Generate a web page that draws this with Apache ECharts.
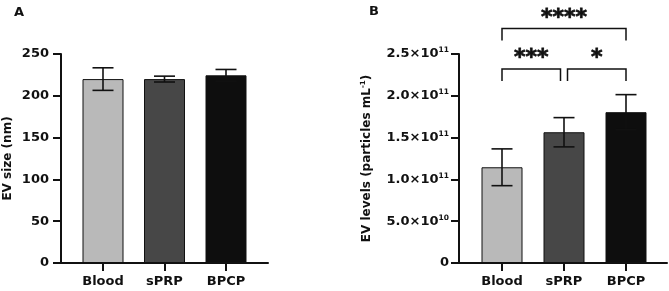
<!DOCTYPE html>
<html>
<head>
<meta charset="utf-8">
<script src="https://cdn.jsdelivr.net/npm/echarts@6/dist/echarts.min.js"></script>
<style>
html,body{margin:0;padding:0;background:#fff;}
#chart{width:669px;height:291px;}
</style>
</head>
<body>
<div id="chart"></div>
<script>
// ---- data ----
const categories = ['Blood', 'sPRP', 'BPCP'];
const sizeMean = [220, 220, 224.5];
const sizeSD = [13.5, 3.5, 7];
const sizeTicks = [0, 50, 100, 150, 200, 250];
const levelMean = [1.145e11, 1.564e11, 1.804e11];
const levelSD = [0.22e11, 0.175e11, 0.21e11];
const levelTicks = [0, 5e10, 1e11, 1.5e11, 2e11, 2.5e11];
const sigPairs = [[0, 2], [0, 1], [1, 2]];
const sigLevels = [2.806e11, 2.32e11, 2.32e11];
const sigLabels = ['****', '***', '*'];
const barColors = ['#b9b9b9', '#474747', '#0e0e0e'];

// ---- styling ----
const FONT = 'DejaVu Sans';
const INK = '#111';

function sci(v) {
  if (v === 0) return '{b|0}';
  const e = Math.floor(Math.log10(v));
  const m = (v / Math.pow(10, e)).toFixed(1);
  return '{b|' + m + '×10}{s|' + e + '}';
}

function errRender(params, api) {
  const x = api.value(0), m = api.value(1), e = api.value(2);
  const top = api.coord([x, m + e]);
  const bot = api.coord([x, m - e]);
  const hw = 10.5;
  const st = { stroke: INK, lineWidth: 1.6 };
  return {
    type: 'group',
    children: [
      { type: 'line', shape: { x1: top[0], y1: top[1], x2: bot[0], y2: bot[1] }, style: st },
      { type: 'line', shape: { x1: top[0] - hw, y1: top[1], x2: top[0] + hw, y2: top[1] }, style: st },
      { type: 'line', shape: { x1: bot[0] - hw, y1: bot[1], x2: bot[0] + hw, y2: bot[1] }, style: st }
    ]
  };
}

function bracketRender(params, api) {
  const i = params.dataIndex;
  const a = api.value(0), b = api.value(1), lvl = api.value(2);
  const p1 = api.coord([a, lvl]);
  const p2 = api.coord([b, lvl]);
  // inset where another bracket at the same level shares an endpoint
  let insetL = 0, insetR = 0;
  sigPairs.forEach((pr, j) => {
    if (j === i || sigLevels[j] !== lvl) return;
    if (pr[1] === a) insetL = 3.5;
    if (pr[0] === b) insetR = 3.5;
  });
  const x1 = p1[0] + insetL, x2 = p2[0] - insetR, y = p1[1];
  const leg = 12;
  const st = { stroke: INK, lineWidth: 1.5, fill: null };
  return {
    type: 'group',
    children: [
      { type: 'polyline', shape: { points: [[x1, y + leg], [x1, y], [x2, y], [x2, y + leg]] }, style: st },
      { type: 'text', style: { text: sigLabels[i], x: (x1 + x2) / 2, y: y - 10.5, align: 'center', verticalAlign: 'middle',
          font: 'bold 22px "' + FONT + '"', fill: INK, stroke: INK, lineWidth: 0.8 } }
    ]
  };
}

const axisLineStyle = { show: true, lineStyle: { color: INK, width: 2 } };
const tickStyle = { show: true, length: 8, lineStyle: { color: INK, width: 2 } };
const catLabel = { fontFamily: FONT, fontWeight: 'bold', fontSize: 13, color: INK, margin: 12 };

const chart = echarts.init(document.getElementById('chart'), null, { renderer: 'canvas' });
chart.setOption({
  animation: false,
  backgroundColor: '#fff',
  title: [
    { text: 'A', left: 9, top: 1, textStyle: { fontFamily: FONT, fontWeight: 'bold', fontSize: 13, color: INK } },
    { text: 'B', left: 364, top: 0, textStyle: { fontFamily: FONT, fontWeight: 'bold', fontSize: 13, color: INK } }
  ],
  grid: [
    { left: 61, width: 207, top: 54, bottom: 28 },      // A axes frame
    { left: 72.25, width: 184.5, top: 54, bottom: 28 }, // A bars
    { left: 459, width: 208, top: 54, bottom: 28 },     // B axes frame
    { left: 471, width: 186, top: 54, bottom: 28 }      // B bars
  ],
  xAxis: [
    { gridIndex: 0, type: 'value', min: 0, max: 1, axisLine: axisLineStyle, axisTick: { show: false }, axisLabel: { show: false }, splitLine: { show: false } },
    { gridIndex: 1, type: 'category', data: categories, axisLine: { show: false }, axisTick: Object.assign({ alignWithLabel: true }, tickStyle), axisLabel: catLabel },
    { gridIndex: 2, type: 'value', min: 0, max: 1, axisLine: axisLineStyle, axisTick: { show: false }, axisLabel: { show: false }, splitLine: { show: false } },
    { gridIndex: 3, type: 'category', data: categories, axisLine: { show: false }, axisTick: Object.assign({ alignWithLabel: true }, tickStyle), axisLabel: catLabel }
  ],
  yAxis: [
    { gridIndex: 0, type: 'value', min: sizeTicks[0], max: sizeTicks[sizeTicks.length - 1], interval: sizeTicks[1] - sizeTicks[0],
      axisLine: axisLineStyle, axisTick: tickStyle, splitLine: { show: false },
      axisLabel: { fontFamily: FONT, fontWeight: 'bold', fontSize: 13, color: INK, margin: 12 },
      name: 'EV size (nm)', nameLocation: 'middle', nameGap: 47,
      nameTextStyle: { fontFamily: FONT, fontWeight: 'bold', fontSize: 12, color: INK } },
    { gridIndex: 1, type: 'value', min: sizeTicks[0], max: sizeTicks[sizeTicks.length - 1], show: false },
    { gridIndex: 2, type: 'value', min: levelTicks[0], max: levelTicks[levelTicks.length - 1], interval: levelTicks[1] - levelTicks[0],
      axisLine: axisLineStyle, axisTick: tickStyle, splitLine: { show: false },
      axisLabel: { margin: 10, formatter: sci,
        rich: { b: { fontFamily: FONT, fontWeight: 'bold', fontSize: 13, color: INK, lineHeight: 15 },
                s: { fontFamily: FONT, fontWeight: 'bold', fontSize: 7.5, color: INK, verticalAlign: 'top', lineHeight: 9 } } },
      name: '{n|EV levels (particles mL}{s|-1}{n|)}', nameLocation: 'middle', nameGap: 85,
      nameTextStyle: { rich: { n: { fontFamily: FONT, fontWeight: 'bold', fontSize: 12, color: INK, lineHeight: 14 },
                               s: { fontFamily: FONT, fontWeight: 'bold', fontSize: 7, color: INK, verticalAlign: 'top', lineHeight: 8 } } } },
    { gridIndex: 3, type: 'value', min: levelTicks[0], max: levelTicks[levelTicks.length - 1], show: false }
  ],
  series: [
    { type: 'bar', xAxisIndex: 1, yAxisIndex: 1, barWidth: 41,
      data: sizeMean.map((v, i) => ({ value: v, itemStyle: { color: barColors[i] } })),
      itemStyle: { borderColor: INK, borderWidth: 1 } },
    { type: 'custom', xAxisIndex: 1, yAxisIndex: 1, z: 5, renderItem: errRender,
      encode: { x: 0, y: 1 }, data: categories.map((c, i) => [i, sizeMean[i], sizeSD[i]]) },
    { type: 'bar', xAxisIndex: 3, yAxisIndex: 3, barWidth: 41,
      data: levelMean.map((v, i) => ({ value: v, itemStyle: { color: barColors[i] } })),
      itemStyle: { borderColor: INK, borderWidth: 1 } },
    { type: 'custom', xAxisIndex: 3, yAxisIndex: 3, z: 5, renderItem: errRender,
      encode: { x: 0, y: 1 }, data: categories.map((c, i) => [i, levelMean[i], levelSD[i]]) },
    { type: 'custom', xAxisIndex: 3, yAxisIndex: 3, z: 6, clip: false, renderItem: bracketRender,
      encode: { x: 0, y: 2 }, data: sigPairs.map((p, i) => [p[0], p[1], sigLevels[i]]) }
  ]
});
</script>
</body>
</html>
